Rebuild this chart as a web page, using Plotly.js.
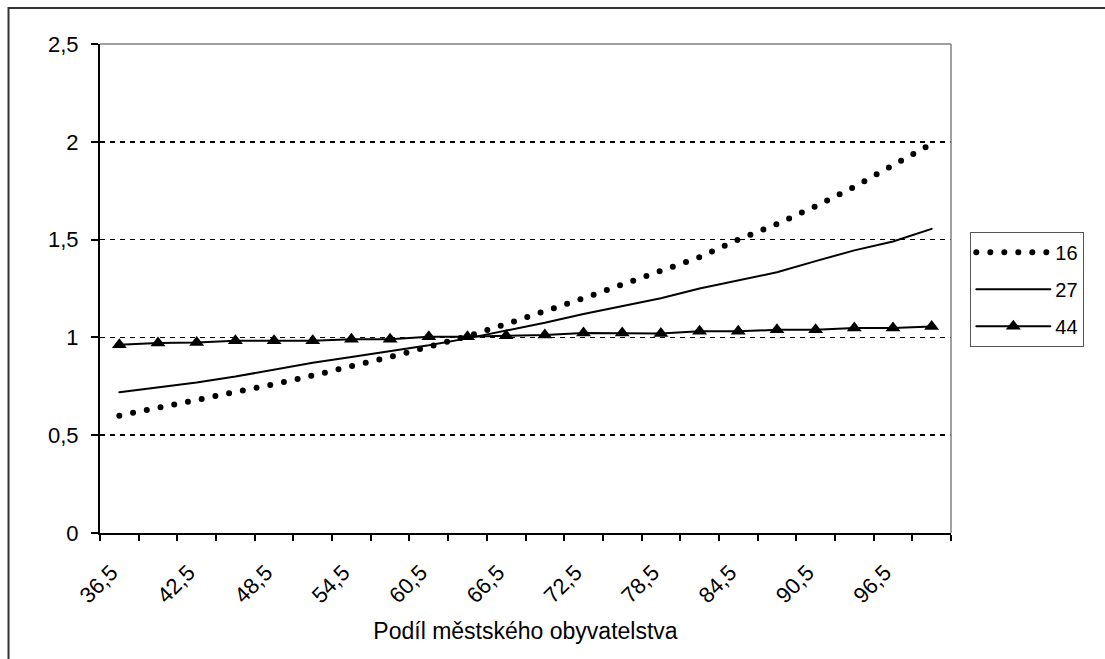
<!DOCTYPE html>
<html>
<head>
<meta charset="utf-8">
<script src="https://cdn.plot.ly/plotly-3.0.1.min.js"></script>
<style>
html, body { margin: 0; padding: 0; background: #fff; }
#chart { width: 1105px; height: 659px; }
path.js-line { stroke-linecap: round; }
</style>
</head>
<body>
<div id="chart"></div>
<script>
// Categories: podíl městského obyvatelstva (category centres)
const categories = [36.5, 39.5, 42.5, 45.5, 48.5, 51.5, 54.5, 57.5, 60.5, 63.5, 66.5,
                    69.5, 72.5, 75.5, 78.5, 81.5, 84.5, 87.5, 90.5, 93.5, 96.5, 99.5];

const seriesNames = ["16", "27", "44"];

const values16 = [0.60, 0.64, 0.677, 0.719, 0.761, 0.805, 0.85, 0.90, 0.952, 1.006, 1.068,
                  1.13, 1.20, 1.27, 1.34, 1.41, 1.50, 1.58, 1.67, 1.77, 1.88, 1.99];

const values27 = [0.72, 0.745, 0.77, 0.80, 0.835, 0.87, 0.90, 0.93, 0.96, 0.995, 1.035,
                  1.075, 1.12, 1.16, 1.20, 1.25, 1.29, 1.333, 1.39, 1.445, 1.49, 1.555];

const values44 = [0.962, 0.971, 0.974, 0.983, 0.983, 0.983, 0.991, 0.991, 1.003, 1.003, 1.008,
                  1.012, 1.022, 1.022, 1.02, 1.031, 1.031, 1.039, 1.039, 1.048, 1.048, 1.056];

const yTicks = [0, 0.5, 1, 1.5, 2, 2.5];

const FONT = "Liberation Sans, Arial, sans-serif";

const traces = [
  {
    x: categories, y: values16, name: seriesNames[0], legendgroup: "a",
    type: "scatter", mode: "lines",
    line: { color: "#000", width: 6, dash: "0px,14px" }
  },
  {
    x: categories, y: values27, name: seriesNames[1], legendgroup: "b",
    type: "scatter", mode: "lines",
    line: { color: "#000", width: 2 }
  },
  {
    x: categories, y: values44, name: seriesNames[2], legendgroup: "c",
    type: "scatter", mode: "lines+markers",
    line: { color: "#000", width: 2 },
    marker: { symbol: "triangle-up", size: 13, color: "#000" }
  }
];

const layout = {
  width: 1105, height: 659,
  margin: { l: 100, r: 154, t: 44, b: 126 },
  paper_bgcolor: "#fff", plot_bgcolor: "#fff",
  separators: ", ",
  font: { family: FONT, size: 22, color: "#000" },
  showlegend: true,
  legend: {
    x: 1.0227, y: 0.616, xanchor: "left", yanchor: "top",
    bordercolor: "#555", borderwidth: 1,
    font: { family: FONT, size: 20, color: "#000" },
    itemwidth: 74, traceorder: "grouped", tracegroupgap: 8
  },
  xaxis: {
    range: [35, 101],
    tick0: 36.5, dtick: 6, tickmode: "linear",
    ticks: "", tickangle: -45, tickformat: ".1f",
    ticklabelstandoff: 16, ticklabelshift: -8,
    showgrid: false, zeroline: false,
    showline: true, linecolor: "#000", linewidth: 2,
    minor: { tick0: 35, dtick: 3, ticks: "outside", ticklen: 6, tickwidth: 2, tickcolor: "#000", showgrid: false },
    tickfont: { family: FONT, size: 22, color: "#000" },
    title: { text: "Podíl městského obyvatelstva", font: { family: FONT, size: 23, color: "#000" }, standoff: 16 }
  },
  yaxis: {
    range: [0, 2.5],
    tickmode: "array", tickvals: yTicks,
    ticks: "outside", ticklen: 7, tickwidth: 2, tickcolor: "#000",
    ticklabelstandoff: 8,
    showgrid: true, gridcolor: "#000", gridwidth: 1.5, griddash: "5px,5px",
    zeroline: false,
    showline: true, linecolor: "#000", linewidth: 2,
    tickfont: { family: FONT, size: 22, color: "#000" }
  },
  shapes: [
    { type: "line", xref: "paper", yref: "paper", x0: 0, x1: 1, y0: 1, y1: 1, line: { color: "#808080", width: 1.5 }, layer: "above" },
    { type: "line", xref: "paper", yref: "paper", x0: 1, x1: 1, y0: 0, y1: 1, line: { color: "#808080", width: 1.5 }, layer: "above" },
    { type: "rect", xref: "paper", yref: "paper", x0: -0.1075, x1: 1.25, y0: -0.3, y1: 1.0735, line: { color: "#333", width: 2 }, layer: "above" }
  ]
};

Plotly.newPlot("chart", traces, layout, { displayModeBar: false, staticPlot: true });
</script>
</body>
</html>
